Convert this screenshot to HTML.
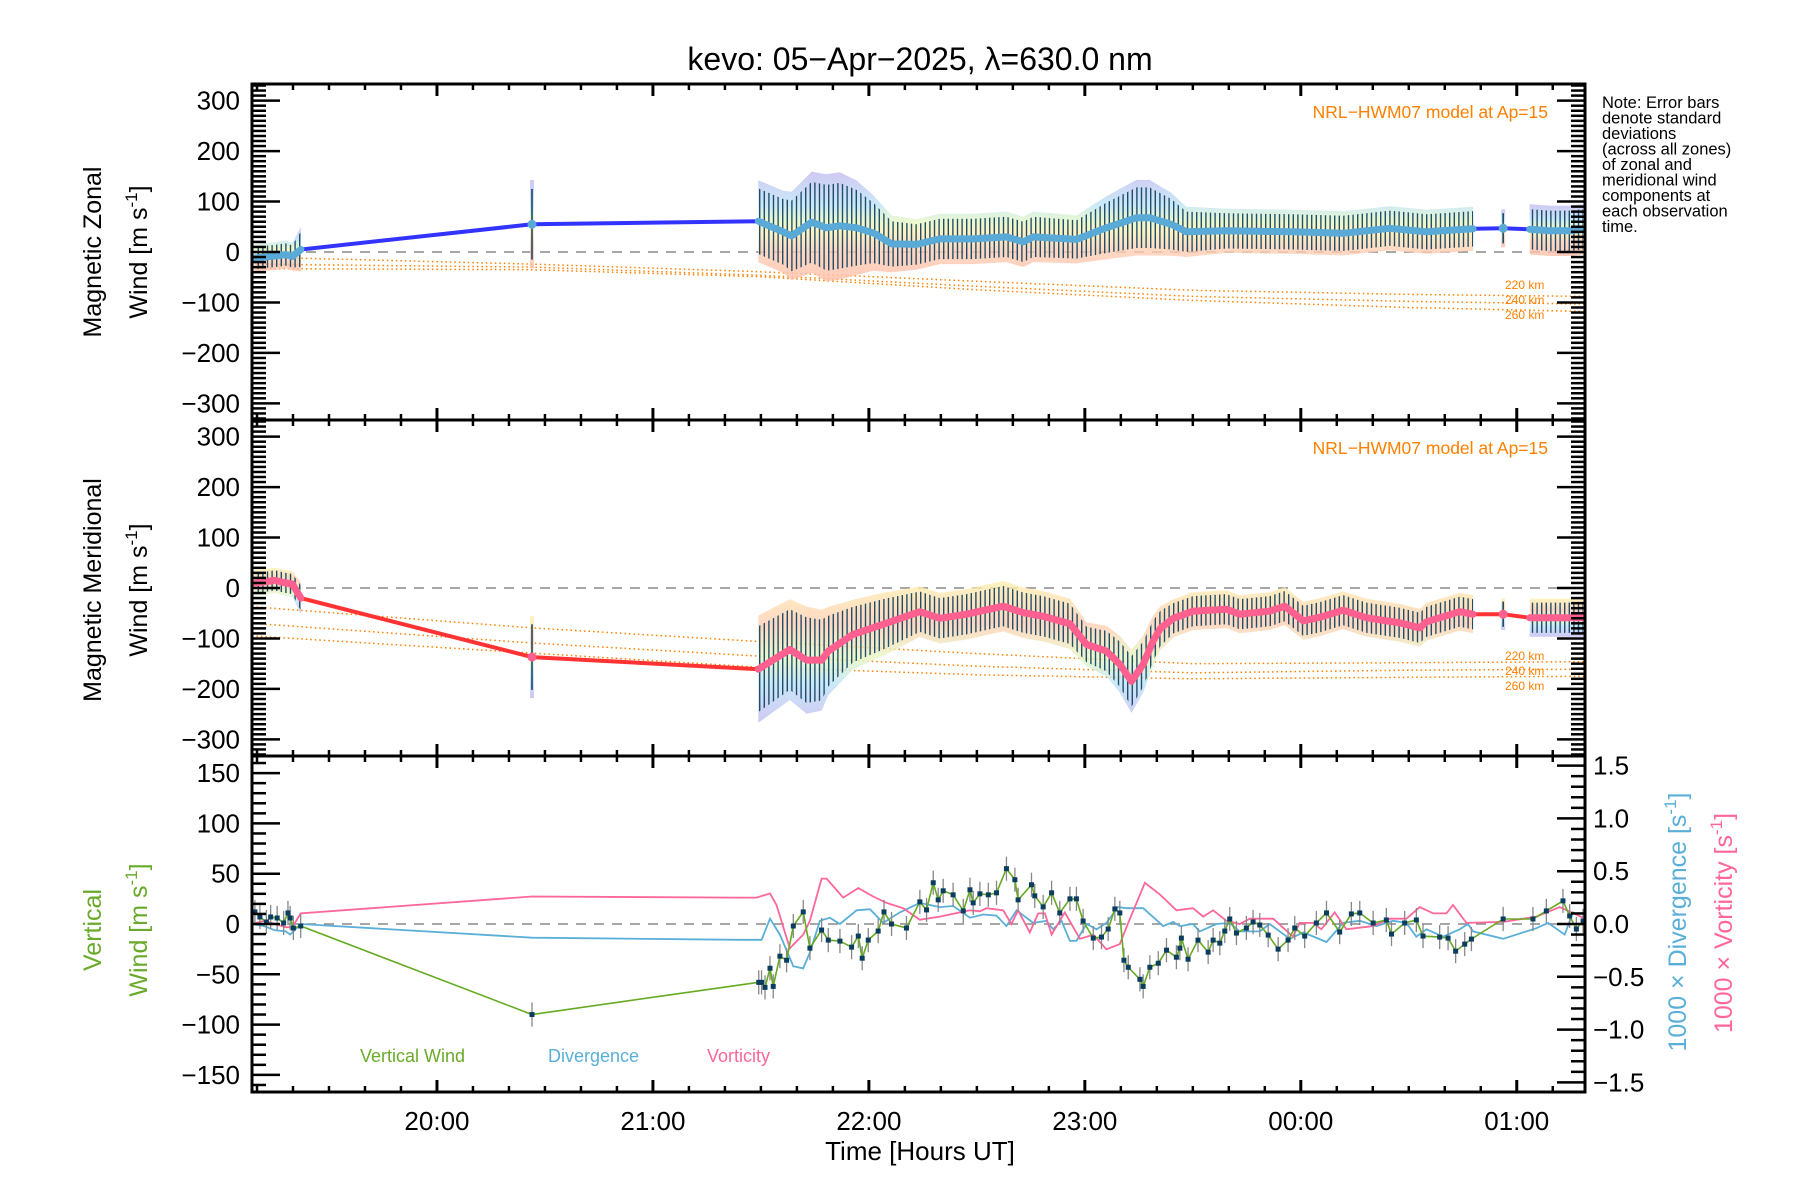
<!DOCTYPE html>
<html><head><meta charset="utf-8"><style>
html,body{margin:0;padding:0;background:#fff;}
svg{display:block;font-family:"Liberation Sans",sans-serif;}
</style></head><body>
<svg id="chart" width="1800" height="1200" viewBox="0 0 1800 1200" xmlns="http://www.w3.org/2000/svg">
<defs>
<pattern id="ebpat" width="4.6" height="10" patternUnits="userSpaceOnUse"><rect x="0" y="0" width="1.4" height="10" fill="#0b3d5e"/></pattern>
<linearGradient id="gz" x1="0" y1="0" x2="0" y2="1">
<stop offset="0" stop-color="#c2baf0"/><stop offset="0.3" stop-color="#bfe4f6"/><stop offset="0.45" stop-color="#e6f7c4"/><stop offset="0.55" stop-color="#fff0b4"/><stop offset="0.72" stop-color="#ffcfb4"/><stop offset="1" stop-color="#ffbea8"/></linearGradient>
<linearGradient id="gm" x1="0" y1="0" x2="0" y2="1">
<stop offset="0" stop-color="#fff0b0"/><stop offset="0.3" stop-color="#ffcfb4"/><stop offset="0.55" stop-color="#e6f7c4"/><stop offset="0.72" stop-color="#bfe4f6"/><stop offset="1" stop-color="#c2baf0"/></linearGradient>
</defs>
<text x="920" y="70" font-size="32" text-anchor="middle">kevo: 05−Apr−2025, λ=630.0 nm</text>
<g id="layer"></g>
<text transform="translate(101,252) rotate(-90)" font-size="25" text-anchor="middle">Magnetic Zonal</text>
<text transform="translate(147,252) rotate(-90)" font-size="25" text-anchor="middle">Wind [m s<tspan dy="-10" font-size="17">-1</tspan><tspan dy="10">]</tspan></text>
<text transform="translate(101,590) rotate(-90)" font-size="25" text-anchor="middle">Magnetic Meridional</text>
<text transform="translate(147,590) rotate(-90)" font-size="25" text-anchor="middle">Wind [m s<tspan dy="-10" font-size="17">-1</tspan><tspan dy="10">]</tspan></text>
<text transform="translate(101,930) rotate(-90)" font-size="25" fill="#6aaa2a" text-anchor="middle">Vertical</text>
<text transform="translate(147,930) rotate(-90)" font-size="25" fill="#6aaa2a" text-anchor="middle">Wind [m s<tspan dy="-10" font-size="17">-1</tspan><tspan dy="10">]</tspan></text>
<text transform="translate(1686,922) rotate(-90)" font-size="25" fill="#5aafd8" text-anchor="middle">1000 × Divergence [s<tspan dy="-10" font-size="17">-1</tspan><tspan dy="10">]</tspan></text>
<text transform="translate(1732,923) rotate(-90)" font-size="25" fill="#ff6699" text-anchor="middle">1000 × Vorticity [s<tspan dy="-10" font-size="17">-1</tspan><tspan dy="10">]</tspan></text>
<text x="920" y="1160" font-size="26" text-anchor="middle">Time [Hours UT]</text>
<text x="1548" y="118" font-size="17.5" fill="#ff8000" text-anchor="end">NRL−HWM07 model at Ap=15</text>
<text x="1548" y="454" font-size="17.5" fill="#ff8000" text-anchor="end">NRL−HWM07 model at Ap=15</text>
<g font-size="12" fill="#ff8000">
<text x="1505" y="289">220 km</text><text x="1505" y="304">240 km</text><text x="1505" y="319">260 km</text></g>
<g font-size="12" fill="#ff8000">
<text x="1505" y="660">220 km</text><text x="1505" y="675">240 km</text><text x="1505" y="690">260 km</text></g>
<g font-size="18">
<text x="360" y="1062" fill="#6aaa2a">Vertical Wind</text>
<text x="548" y="1062" fill="#5aafd8">Divergence</text>
<text x="707" y="1062" fill="#ff6699">Vorticity</text>
</g>
<g font-size="16.5">
<text x="1602" y="108">Note: Error bars</text>
<text x="1602" y="123.5">denote standard</text>
<text x="1602" y="139">deviations</text>
<text x="1602" y="154.5">(across all zones)</text>
<text x="1602" y="170">of zonal and</text>
<text x="1602" y="185.5">meridional wind</text>
<text x="1602" y="201">components at</text>
<text x="1602" y="216.5">each observation</text>
<text x="1602" y="232">time.</text>
</g>
</svg>
<script>
// ---- data ----
const obsIntervals = [[19.15,19.371],[21.48,24.81],[25.05,25.32]];
const zonT = [19.155,19.20,19.25,19.30,19.33,19.37,20.44,21.488,21.603,21.642,21.735,21.804,21.866,21.943,22.020,22.105,22.221,22.329,22.483,22.637,22.715,22.761,22.962,23.100,23.239,23.30,23.40,23.47,23.656,23.964,24.196,24.412,24.582,24.798,24.937,25.06,25.15,25.25,25.307];
const zonV = [-12,-10,-8,-5,-9,5,55,61,40,32,59,48,52,48,38,16,15,26,26,30,20,30,25,48,68,68,55,40,42,40,37,47,40,46,47,45,42,42,45];
const zonS = [22,22,22,22,22,35,70,65,65,70,80,85,85,75,60,45,40,40,40,40,40,40,38,50,60,60,50,40,35,35,35,35,35,35,30,40,40,40,40];
const merT = [19.155,19.20,19.25,19.30,19.33,19.37,20.44,21.488,21.634,21.711,21.781,21.812,21.927,22.066,22.236,22.329,22.452,22.622,22.715,22.807,22.931,23.008,23.100,23.162,23.216,23.270,23.316,23.35,23.41,23.501,23.656,23.717,23.856,23.926,24.011,24.088,24.196,24.304,24.458,24.551,24.582,24.736,24.798,24.937,25.06,25.20,25.307];
const merV = [10,12,15,10,8,-20,-137,-161,-122,-143,-143,-125,-92,-72,-47,-60,-52,-36,-49,-56,-71,-112,-125,-151,-185,-151,-105,-80,-60,-46,-42,-52,-46,-36,-65,-58,-44,-59,-69,-79,-67,-47,-52,-52,-59,-59,-59];
const merS = [20,20,20,20,20,25,65,85,80,85,80,70,55,50,40,40,40,40,40,40,40,35,40,45,50,45,40,35,30,30,30,30,30,30,30,30,30,30,30,30,30,30,30,25,30,30,30];
const modT = [19.143,20.44,21.49,22.5,23.5,24.5,25.316];
const modZ220 = [-10,-24,-39,-58,-76,-84,-88];
const modZ240 = [-24,-30,-46,-68,-88,-98,-103];
const modZ260 = [-33,-35,-49,-75,-96,-110,-118];
const modM220 = [-37,-79,-106,-130,-150,-148,-146];
const modM240 = [-70,-109,-135,-155,-168,-163,-161];
const modM260 = [-95,-129,-157,-172,-180,-177,-175];
const vwT = [19.157,19.18,19.21,19.23,19.26,19.29,19.31,19.32,19.335,19.369,20.44,21.49,21.503,21.519,21.542,21.557,21.588,21.619,21.650,21.696,21.727,21.781,21.812,21.866,21.920,21.951,21.969,21.997,22.043,22.070,22.105,22.174,22.236,22.267,22.298,22.321,22.344,22.390,22.437,22.468,22.483,22.514,22.553,22.591,22.637,22.676,22.691,22.753,22.768,22.807,22.846,22.884,22.931,22.961,22.992,23.039,23.077,23.108,23.139,23.162,23.181,23.201,23.255,23.270,23.301,23.340,23.378,23.424,23.440,23.447,23.478,23.524,23.571,23.594,23.625,23.648,23.671,23.702,23.748,23.779,23.810,23.849,23.895,23.941,23.972,24.018,24.072,24.119,24.180,24.234,24.273,24.335,24.396,24.420,24.481,24.535,24.566,24.643,24.682,24.717,24.759,24.790,24.937,25.075,25.137,25.214,25.245,25.276,25.307];
const vwV = [12,7,2,7,6,1,11,6,-4,-2,-90,-58,-58,-63,-44,-62,-32,-36,-2,12,-24,-6,-16,-17,-23,-12,-34,-16,-7,12,0,-4,22,14,41,24,33,29,13,34,21,30,29,31,55,44,24,39,28,17,31,11,25,25,3,-14,-13,-5,15,11,-36,-43,-55,-62,-43,-39,-26,-33,-24,-14,-35,-16,-28,-16,-19,-7,5,-9,-4,2,-1,-11,-25,-16,-4,-12,1,11,-8,10,11,1,4,-10,1,4,-12,-13,-14,-27,-20,-15,5,5,13,23,8,-5,3];
const divT = [19.143,19.20,19.25,19.30,19.32,19.345,19.369,20.44,21.40,21.503,21.542,21.588,21.650,21.696,21.727,21.773,21.819,21.866,21.943,22.005,22.066,22.143,22.236,22.329,22.390,22.468,22.529,22.591,22.637,22.684,22.761,22.822,22.853,22.892,22.931,22.961,23.008,23.054,23.100,23.154,23.193,23.270,23.363,23.409,23.440,23.501,23.532,23.609,23.671,23.717,23.810,23.856,23.949,24.011,24.119,24.196,24.273,24.350,24.427,24.489,24.535,24.582,24.659,24.736,24.774,24.798,24.937,25.091,25.145,25.222,25.260,25.307];
const divV = [0,-0.02,-0.06,-0.07,-0.10,-0.05,0,-0.13,-0.15,-0.15,0.05,-0.10,-0.40,-0.42,-0.27,0.03,0.06,0,0.13,0.14,0.01,0.11,0.20,0.16,0.17,0.06,0.09,0.08,-0.02,0.13,0.01,0.03,-0.05,0.03,-0.16,-0.16,0,-0.05,0.01,0.16,0.15,0.15,-0.02,0.02,-0.02,0,-0.07,0,0.01,-0.07,-0.07,0,-0.14,-0.08,-0.17,0.01,0.03,-0.02,0.03,0.01,-0.12,-0.05,-0.12,-0.05,0,-0.07,-0.14,-0.04,0.01,-0.10,0.11,0.06];
const vorT = [19.143,19.20,19.25,19.30,19.33,19.369,20.44,21.40,21.480,21.542,21.572,21.634,21.696,21.727,21.781,21.804,21.881,21.951,22.020,22.082,22.159,22.236,22.329,22.421,22.468,22.514,22.545,22.622,22.660,22.691,22.745,22.784,22.815,22.846,22.907,22.977,23.039,23.100,23.162,23.201,23.278,23.347,23.424,23.501,23.548,23.594,23.656,23.717,23.764,23.872,23.964,23.995,24.057,24.095,24.157,24.211,24.335,24.412,24.489,24.551,24.613,24.674,24.705,24.767,24.937,25.091,25.199,25.307];
const vorV = [0,0.03,0,-0.03,-0.03,0.10,0.26,0.25,0.25,0.29,0.18,-0.23,-0.10,0.03,0.43,0.43,0.25,0.34,0.26,0.20,0.15,0.04,0.07,0.11,0.13,0.12,0.15,0.13,0,0.13,-0.08,0.10,0.10,-0.10,0.11,-0.14,-0.10,-0.24,-0.19,0.01,0.39,0.28,0.13,0.15,0.07,0.13,0.03,0,0.05,0.05,-0.12,0.01,0.01,-0.05,0.11,-0.05,-0.02,0.05,0.05,0.16,0.10,0.10,0.18,0.01,0.02,0.07,0.16,0.06];
const leftTicks12 = [300,200,100,0,-100,-200,-300];
const leftTicks3 = [150,100,50,0,-50,-100,-150];
const rightTicks3 = [1.5,1.0,0.5,0.0,-0.5,-1.0,-1.5];
const hourTicks = [20,21,22,23,24,25];
const hourLabels = ["20:00","21:00","22:00","23:00","00:00","01:00"];

// ---- scales ----
const NS="http://www.w3.org/2000/svg";
const X0=252,X1=1585,T0=19.1435,T1=25.316;
const PT=[84,420,756], PH=336;
function xs(t){return X0+(t-T0)*(X1-X0)/(T1-T0);}
function yPanel(i){return v=>PT[i]+PH/2-v*(PH/2)/333;}
const y1=yPanel(0), y2=yPanel(1);
const y3=v=>PT[2]+PH/2-v*(PH/2)/167;
const y3r=v=>PT[2]+PH/2-v*105.6;
const layer=document.getElementById('layer');
function el(tag,attrs,parent){const e=document.createElementNS(NS,tag);for(const k in attrs)e.setAttribute(k,attrs[k]);(parent||layer).appendChild(e);return e;}
function pts(T,V,ys){return T.map((t,i)=>xs(t).toFixed(1)+','+ys(V[i]).toFixed(1)).join(' ');}
function segments(T){
  const s=[];const used=new Set();
  obsIntervals.forEach(([a,b])=>{const seg=[];T.forEach((t,i)=>{if(t>=a&&t<=b){seg.push(i);used.add(i);}});if(seg.length)s.push(seg);});
  T.forEach((t,i)=>{if(!used.has(i))s.push([i]);});
  return s;
}

function windPanel(idx,T,V,S,ys,grad,lineCol,overCol,m1,m2,m3,name){
  const g=el('g',{});
  
  
  const z=el('line',{x1:X0,x2:X1,y1:ys(0),y2:ys(0),stroke:'#888',"stroke-width":1.5,"stroke-dasharray":"10,8"},g);
  
  
  [m1,m2,m3].forEach((m,k)=>{
    const p=el('polyline',{points:pts(modT,m,ys),fill:'none',stroke:'#ff8000',"stroke-width":1.5,"stroke-dasharray":"1.5,3"},g);
    
    
  });
  const segs=segments(T);
  segs.forEach(seg=>{
    if(seg.length>1){
      const up=seg.map(i=>xs(T[i]).toFixed(1)+','+ys(V[i]+S[i]*1.25).toFixed(1));
      const dn=seg.slice().reverse().map(i=>xs(T[i]).toFixed(1)+','+ys(V[i]-S[i]*1.25).toFixed(1));
      const b=el('polygon',{points:up.concat(dn).join(' '),fill:'url(#'+grad+')',opacity:0.8},g);
      
      
      const up2=seg.map(i=>xs(T[i]).toFixed(1)+','+ys(V[i]+S[i]).toFixed(1));
      const dn2=seg.slice().reverse().map(i=>xs(T[i]).toFixed(1)+','+ys(V[i]-S[i]).toFixed(1));
      const e=el('polygon',{points:up2.concat(dn2).join(' '),fill:'url(#ebpat)',opacity:0.9},g);
      
      
    } else {
      const i=seg[0];
      const b=el('rect',{x:xs(T[i])-2,y:ys(V[i]+S[i]*1.25),width:4,height:ys(V[i]-S[i]*1.25)-ys(V[i]+S[i]*1.25),fill:'url(#'+grad+')',opacity:0.8},g);
      
      
      const e=el('line',{x1:xs(T[i]),x2:xs(T[i]),y1:ys(V[i]+S[i]),y2:ys(V[i]-S[i]),stroke:'#0b3d5e',"stroke-width":1.5},g);
      
      
    }
  });
  const ln=el('polyline',{points:pts(T,V,ys),fill:'none',stroke:lineCol,"stroke-width":4},g);
  
  
  segs.forEach(seg=>{
    if(seg.length>1){
      const o=el('polyline',{points:seg.map(i=>xs(T[i]).toFixed(1)+','+ys(V[i]).toFixed(1)).join(' '),fill:'none',stroke:overCol,"stroke-width":7,"stroke-linejoin":"round","stroke-linecap":"round"},g);
      
      
    } else {
      const c=el('circle',{cx:xs(T[seg[0]]),cy:ys(V[seg[0]]),r:4.5,fill:overCol},g);
      
      
    }
  });
}
windPanel(0,zonT,zonV,zonS,y1,'gz','#3333ff','#5aaad8',modZ220,modZ240,modZ260,'zonal');
windPanel(1,merT,merV,merS,y2,'gm','#ff3333','#ff6090',modM220,modM240,modM260,'meridional');

// panel 3
const g3=el('g',{});


const z3=el('line',{x1:X0,x2:X1,y1:y3(0),y2:y3(0),stroke:'#888',"stroke-width":1.5,"stroke-dasharray":"10,8"},g3);


const dl=el('polyline',{points:pts(divT,divV,y3r),fill:'none',stroke:'#5aafd8',"stroke-width":1.8},g3);


const vl=el('polyline',{points:pts(vorT,vorV,y3r),fill:'none',stroke:'#ff6699',"stroke-width":1.8},g3);


vwT.forEach((t,i)=>{
  const b=el('line',{x1:xs(t),x2:xs(t),y1:y3(vwV[i]+12),y2:y3(vwV[i]-12),stroke:'#888',"stroke-width":1.3},g3);
  
  
});
const wl=el('polyline',{points:pts(vwT,vwV,y3),fill:'none',stroke:'#66aa22',"stroke-width":1.6},g3);


vwT.forEach((t,i)=>{
  const p=el('rect',{x:xs(t)-2.5,y:y3(vwV[i])-2.5,width:5,height:5,fill:'#0b3d5e'},g3);
  
  
});

// axes
const ax=el('g',{stroke:'#000'});


for(let p=0;p<3;p++){
  const top=PT[p],bot=PT[p]+PH;
  const fr=el('rect',{x:X0,y:top,width:X1-X0,height:PH,fill:'none',"stroke-width":3},ax);
  
  
  for(let m=0;m<=37;m++){
    const t=19+(m+1)/6; if(t>T1) break; if(t<T0) continue;
    const major=Math.abs(t-Math.round(t))<1e-6; const L=major?12:6; const x=xs(t);
    el('line',{x1:x,x2:x,y1:top,y2:top+L,"stroke-width":major?3:2.5},ax);
    el('line',{x1:x,x2:x,y1:bot,y2:bot-L,"stroke-width":major?3:2.5},ax);
  }
  const ys=p==0?y1:p==1?y2:y3; const lim=p<2?330:160; const step=p<2?100:50;
  for(let v=-lim;v<=lim;v+=10){
    const major=v%step===0; const L=major?28:14; const y=ys(v);
    el('line',{x1:X0,x2:X0+L,y1:y,y2:y,"stroke-width":2.5},ax);
    if(p<2) el('line',{x1:X1,x2:X1-L,y1:y,y2:y,"stroke-width":2.5},ax);
  }
  if(p==2){
    for(let k=-15;k<=15;k++){const v=k/10;const major=k%5===0;const y=y3r(v);
      el('line',{x1:X1,x2:X1-(major?28:14),y1:y,y2:y,"stroke-width":2.5},ax);}
  }
}
const lab=el('g',{"font-size":26,"text-anchor":"end"});


[[y1,leftTicks12],[y2,leftTicks12],[y3,leftTicks3]].forEach(([ys,arr])=>{
  arr.forEach(v=>{const t=el('text',{x:240,y:ys(v)+9},lab);t.textContent=(v<0?'−':'')+Math.abs(v);
    
    });
});
rightTicks3.forEach(v=>{const t=el('text',{x:1593,y:y3r(v)+9,"text-anchor":"start"},lab);t.textContent=(v<0?'−':'')+Math.abs(v).toFixed(1);
  
  });
hourTicks.forEach((h,i)=>{const t=el('text',{x:xs(h),y:1130,"text-anchor":"middle"},lab);t.textContent=hourLabels[i];
  
  });
</script>
</body></html>
